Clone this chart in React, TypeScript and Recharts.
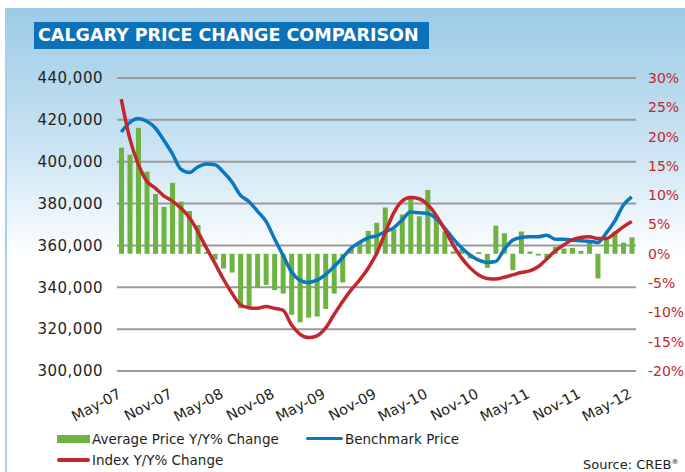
import { ComposedChart, Bar, Line, XAxis, YAxis, CartesianGrid } from 'recharts';

const months = [
  'May-07', 'Jun-07', 'Jul-07', 'Aug-07', 'Sep-07', 'Oct-07', 'Nov-07', 'Dec-07', 'Jan-08', 'Feb-08', 'Mar-08', 'Apr-08',
  'May-08', 'Jun-08', 'Jul-08', 'Aug-08', 'Sep-08', 'Oct-08', 'Nov-08', 'Dec-08', 'Jan-09', 'Feb-09', 'Mar-09', 'Apr-09',
  'May-09', 'Jun-09', 'Jul-09', 'Aug-09', 'Sep-09', 'Oct-09', 'Nov-09', 'Dec-09', 'Jan-10', 'Feb-10', 'Mar-10', 'Apr-10',
  'May-10', 'Jun-10', 'Jul-10', 'Aug-10', 'Sep-10', 'Oct-10', 'Nov-10', 'Dec-10', 'Jan-11', 'Feb-11', 'Mar-11', 'Apr-11',
  'May-11', 'Jun-11', 'Jul-11', 'Aug-11', 'Sep-11', 'Oct-11', 'Nov-11', 'Dec-11', 'Jan-12', 'Feb-12', 'Mar-12', 'Apr-12',
  'May-12',
];

// Average Price Y/Y% change (bars, right axis)
const avgPriceChange = [
  18.1, 16.9, 21.5, 14.0, 10.2, 8.0, 12.1, 8.9, 7.3, 4.9, 0.3, -1.0,
  -2.5, -3.2, -9.3, -9.0, -5.8, -5.3, -6.2, -6.8, -10.4, -11.7, -10.9, -10.7,
  -9.4, -6.8, -4.9, 0.9, 1.8, 3.9, 5.3, 7.9, 4.3, 6.7, 9.7, 6.4,
  10.9, 6.1, 3.8, 0.4, 0.8, -0.8, 0.3, -2.4, 4.8, 3.5, -2.8, 3.8,
  0.4, -0.3, -0.8, 1.2, 0.9, 1.0, 0.5, 1.9, -4.2, 2.4, 3.8, 1.9,
  2.8,
];

// Index Y/Y% change (red line, right axis)
const indexChange = [
  26.4, 19.7, 15.3, 12.4, 11.2, 9.9, 9.0, 7.8, 6.2, 3.8, 1.0, -1.6,
  -4.3, -6.7, -8.7, -9.2, -9.3, -9.0, -9.3, -9.6, -12.1, -13.7, -14.3, -14.0,
  -12.7, -10.4, -8.2, -6.2, -4.5, -2.5, 0.0, 3.5, 6.9, 9.0, 9.6, 9.4,
  8.4, 6.6, 4.2, 1.5, -0.7, -2.4, -3.6, -4.2, -4.3, -4.0, -3.6, -3.2,
  -2.9, -2.2, -0.9, 0.5, 1.5, 2.4, 2.8, 2.9, 2.6, 2.6, 3.5, 4.6,
  5.5,
];

// Benchmark price (blue line, left axis)
const benchmark = [
  414200, 418700, 420600, 419300, 416100, 410300, 403900, 396400, 394800, 397500, 398900, 398600,
  395100, 390400, 384000, 381000, 376400, 371600, 363300, 355400, 347400, 343400, 342300, 343400,
  346100, 349800, 354100, 358600, 361400, 363600, 364600, 366500, 368400, 372100, 376000, 375600,
  375300, 372900, 368400, 363300, 358900, 355400, 353000, 351900, 352300, 358000, 362500, 363800,
  364100, 364100, 364900, 363000, 362900, 362500, 362200, 362000, 361400, 365900, 371600, 379200,
  383200,
];

const priceTicks = [300000, 320000, 340000, 360000, 380000, 400000, 420000, 440000];
const pctTicks = [-20, -15, -10, -5, 0, 5, 10, 15, 20, 25, 30];

const data = months.map((m, i) => ({
  month: m,
  avg: avgPriceChange[i],
  index: indexChange[i],
  price: benchmark[i],
}));

const FONT = '"DejaVu Sans", sans-serif';
const TEXT = '#231f20';
const RED = '#c1272d';
const BLUE = '#0b77c0';
const GREEN = '#6cb33f';

// slanted month labels under the plot
const MonthTick = ({ x, y, payload }: any) => {
  const tx = x + 1;
  const ty = y + 24;
  return (
    <text x={tx} y={ty} transform={`rotate(-28, ${tx}, ${ty})`} textAnchor="end" fontSize={14.5} fill={TEXT} fontFamily={FONT}>
      {payload.value}
    </text>
  );
};

const App = () => {
  return (
    <div style={{ position: 'absolute', left: 0, top: 0, width: 685, height: 472, background: '#fff', fontFamily: FONT, overflow: 'hidden' }}>
      <div
        style={{
          position: 'absolute',
          left: 5,
          top: 8,
          width: 680,
          height: 464,
          background: 'linear-gradient(#9bcae6 0px, #cfe6f4 150px, #ffffff 250px)',
          borderLeft: '2px solid #a6d1ec',
        }}
      />
      <div
        style={{
          position: 'absolute',
          left: 34,
          top: 22,
          width: 395,
          height: 27,
          background: '#0b72ba',
          color: '#fff',
          fontWeight: 'bold',
          fontSize: 17.5,
          lineHeight: '27px',
          paddingLeft: 4,
          boxSizing: 'border-box',
          whiteSpace: 'nowrap',
        }}
      >
        CALGARY PRICE CHANGE COMPARISON
      </div>
      <div style={{ position: 'absolute', left: 0, top: 0 }}>
        <ComposedChart width={685} height={472} data={data} margin={{ top: 78, right: 0, bottom: 71, left: 0 }}>
          <CartesianGrid yAxisId="price" vertical={false} stroke="#9a9a9a" strokeWidth={2} />
          <XAxis
            dataKey="month"
            interval={5}
            height={30}
            axisLine={false}
            tickLine={false}
            tickSize={0}
            tick={<MonthTick />}
          />
          <YAxis
            yAxisId="price"
            orientation="left"
            width={117}
            domain={[300000, 440000]}
            ticks={priceTicks}
            axisLine={false}
            tickLine={false}
            tickSize={0}
            tickMargin={14}
            tickFormatter={(v: number) => v.toLocaleString('en-US')}
            tick={{ fill: TEXT, fontSize: 15, fontFamily: FONT, letterSpacing: 0.5 }}
          />
          <YAxis
            yAxisId="pct"
            orientation="right"
            width={49}
            domain={[-20, 30]}
            ticks={pctTicks}
            axisLine={false}
            tickLine={false}
            tickSize={0}
            tickMargin={12}
            tickFormatter={(v: number) => `${v}%`}
            tick={{ fill: RED, fontSize: 14, fontFamily: FONT, textAnchor: 'start' }}
          />
          <Bar yAxisId="pct" dataKey="avg" fill={GREEN} barSize={5} isAnimationActive={false} />
          <Line
            yAxisId="price"
            type="monotone"
            dataKey="price"
            stroke={BLUE}
            strokeWidth={3.5}
            dot={false}
            isAnimationActive={false}
          />
          <Line
            yAxisId="pct"
            type="monotone"
            dataKey="index"
            stroke={RED}
            strokeWidth={3.5}
            dot={false}
            isAnimationActive={false}
          />
        </ComposedChart>
      </div>
      {/* legend */}
      <div style={{ position: 'absolute', left: 57, top: 435, width: 33, height: 8, background: GREEN }} />
      <div style={{ position: 'absolute', left: 92, top: 430, fontSize: 13.5, color: TEXT, lineHeight: '18px' }}>
        Average Price Y/Y% Change
      </div>
      <div style={{ position: 'absolute', left: 306, top: 437, width: 37, height: 3, background: BLUE, borderRadius: 2 }} />
      <div style={{ position: 'absolute', left: 345, top: 430, fontSize: 13.5, color: TEXT, lineHeight: '18px' }}>
        Benchmark Price
      </div>
      <div style={{ position: 'absolute', left: 57, top: 458, width: 33, height: 4, background: RED, borderRadius: 2 }} />
      <div style={{ position: 'absolute', left: 92, top: 451, fontSize: 13.5, color: TEXT, lineHeight: '18px' }}>
        Index Y/Y% Change
      </div>
      <div style={{ position: 'absolute', left: 583, top: 453, fontSize: 13, color: TEXT, lineHeight: '18px', whiteSpace: 'nowrap' }}>
        Source: CREB<sup style={{ fontSize: 7 }}>®</sup>
      </div>
    </div>
  );
};

export default App;
